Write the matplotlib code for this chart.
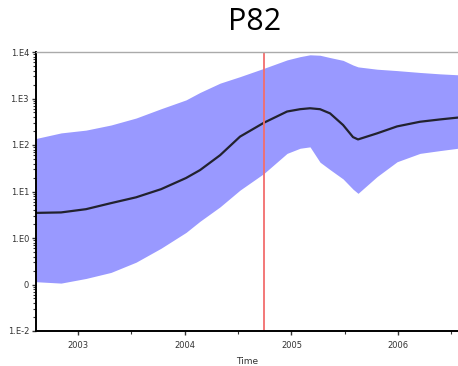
import matplotlib.pyplot as plt
import matplotlib.ticker as mticker
import numpy as np

# decimal years and log10 values
years = [2002.606, 2002.841, 2003.075, 2003.309, 2003.544, 2003.778, 2004.012, 2004.143,
         2004.331, 2004.518, 2004.743, 2004.959, 2005.081, 2005.174, 2005.268, 2005.362,
         2005.484, 2005.577, 2005.624, 2005.802, 2005.990, 2006.205, 2006.393, 2006.561]
median_log = [0.54, 0.55, 0.62, 0.75, 0.875, 1.05, 1.29, 1.46,
              1.78, 2.18, 2.48, 2.72, 2.77, 2.79, 2.77, 2.68,
              2.43, 2.17, 2.12, 2.25, 2.40, 2.50, 2.55, 2.59]
upper_log = [2.14, 2.26, 2.32, 2.43, 2.58, 2.78, 2.97, 3.13,
             3.33, 3.47, 3.65, 3.83, 3.90, 3.94, 3.93, 3.88,
             3.82, 3.72, 3.68, 3.63, 3.60, 3.56, 3.53, 3.51]
lower_log = [-0.94, -0.97, -0.87, -0.74, -0.52, -0.22, 0.12, 0.36,
             0.67, 1.03, 1.39, 1.82, 1.93, 1.96, 1.63, 1.47,
             1.27, 1.05, 0.96, 1.32, 1.64, 1.82, 1.88, 1.93]
event_year = 2004.74

ytick_vals = [1e-2, 1e-1, 1e0, 1e1, 1e2, 1e3, 1e4]
ytick_labels = ['1.E-2', '0', '1.E0', '1.E1', '1.E2', '1.E3', '1.E4']
xtick_vals = [2003, 2004, 2005, 2006]

median = 10 ** np.array(median_log)
upper = 10 ** np.array(upper_log)
lower = 10 ** np.array(lower_log)

fig = plt.figure(figsize=(4.58, 3.66), dpi=100)
ax = fig.add_axes([36 / 458, 35 / 366, 1 - 36 / 458, 279 / 366])

ax.fill_between(years, lower, upper, color='#9999ff', linewidth=0)
ax.plot(years, median, color='#22222e', linewidth=1.6, solid_joinstyle='round')
ax.axvline(event_year, color='#f26d6d', linewidth=1.3)

ax.set_yscale('log')
ax.set_ylim(1e-2, 1e4)
ax.set_xlim(2002.606, 2006.561)
ax.set_yticks(ytick_vals)
ax.set_yticklabels(ytick_labels)
ax.yaxis.set_minor_locator(mticker.LogLocator(base=10, subs=np.arange(2, 10)))
ax.yaxis.set_minor_formatter(mticker.NullFormatter())
ax.set_xticks(xtick_vals)
ax.set_xticklabels([str(y) for y in xtick_vals])
ax.set_xticks([2003.5, 2004.5, 2005.5, 2006.5], minor=True)

ax.tick_params(which='major', length=3, width=1, labelsize=6, colors='#333333', pad=2)
ax.tick_params(which='minor', length=2, width=0.8, colors='#333333')
ax.tick_params(axis='x', which='major', pad=4)
ax.set_xlabel('Time', fontsize=6.5, color='#333333', labelpad=5)

ax.spines['left'].set_linewidth(1.4)
ax.spines['bottom'].set_linewidth(1.4)
ax.spines['top'].set_color('#aaaaaa')
ax.spines['top'].set_linewidth(1.0)
ax.spines['right'].set_visible(False)

fig.text(255 / 458, 1 - 22 / 366, 'P82', fontsize=22, family='Open Sans',
         ha='center', va='center', color='black')

fig.savefig('out.png', dpi=100)
